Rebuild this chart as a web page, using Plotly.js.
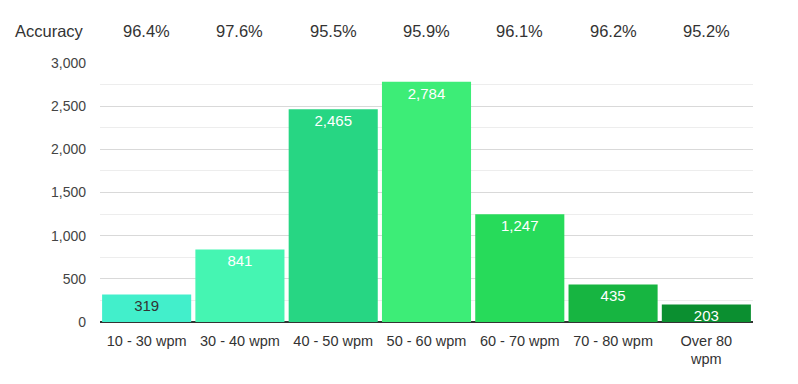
<!DOCTYPE html>
<html>
<head>
<meta charset="utf-8">
<script src="https://cdn.plot.ly/plotly-3.0.1.min.js"></script>
<style>html,body{margin:0;padding:0;background:#fff;}#chart{width:798px;height:384px;}</style>
</head>
<body>
<div id="chart"></div>
<script>
const categories = ["10 - 30 wpm", "30 - 40 wpm", "40 - 50 wpm", "50 - 60 wpm", "60 - 70 wpm", "70 - 80 wpm", "Over 80<br>wpm"];
const counts = [319, 841, 2465, 2784, 1247, 435, 203];
const accuracy = ["96.4%", "97.6%", "95.5%", "95.9%", "96.1%", "96.2%", "95.2%"];
const barColors = ["#42efcb", "#45f5b2", "#27d683", "#3ded77", "#27db5a", "#17b541", "#0b8f30"];
const labelColors = ["#333333", "#ffffff", "#ffffff", "#ffffff", "#ffffff", "#ffffff", "#ffffff"];

const font = "Liberation Sans, Arial, sans-serif";

const trace = {
  type: "bar",
  x: categories,
  y: counts,
  marker: {color: barColors, line: {width: 0}},
  text: counts.map(v => v.toLocaleString("en-US")),
  textposition: "inside",
  insidetextanchor: "end",
  constraintext: "none",
  textangle: 0,
  textfont: {family: font, size: 15, color: labelColors},
  hoverinfo: "skip"
};

// invisible helper trace on an overlaid axis that carries the light half-step gridlines
const gridTrace = {
  type: "scatter", mode: "markers",
  x: [categories[0]], y: [0], yaxis: "y2",
  marker: {opacity: 0}, hoverinfo: "skip", showlegend: false
};

const annotations = [{
  xref: "paper", yref: "paper", x: -0.077, y: 1.125,
  xanchor: "center", yanchor: "middle",
  text: "Accuracy", showarrow: false,
  font: {family: font, size: 16.5, color: "#333"}
}].concat(categories.map((c, i) => ({
  xref: "x", yref: "paper", x: c, y: 1.125,
  xanchor: "center", yanchor: "middle",
  text: accuracy[i], showarrow: false,
  font: {family: font, size: 16.5, color: "#333"}
})));

const layout = {
  width: 798, height: 384,
  margin: {l: 100, r: 45, t: 63, b: 62},
  paper_bgcolor: "#fff", plot_bgcolor: "#fff",
  bargap: 0.045,
  showlegend: false,
  font: {family: font, size: 13, color: "#444"},
  xaxis: {
    type: "category",
    showgrid: false,
    showline: false,
    ticks: "",
    ticklabelstandoff: 8,
    tickfont: {family: font, size: 14.5, color: "#333"},
    fixedrange: true
  },
  yaxis: {
    range: [0, 3000],
    dtick: 500,
    tickformat: ",d",
    showgrid: true,
    gridcolor: "#d9d9d9",
    gridwidth: 1,
    zeroline: true,
    zerolinecolor: "#333333",
    zerolinewidth: 1.5,
    showline: false,
    ticks: "",
    ticklabelstandoff: 13,
    tickfont: {family: font, size: 14, color: "#444"},
    fixedrange: true
  },
  yaxis2: {
    overlaying: "y",
    range: [0, 3000],
    tick0: 250,
    dtick: 500,
    showgrid: true,
    gridcolor: "#ededed",
    gridwidth: 1,
    zeroline: false,
    showline: false,
    showticklabels: false,
    ticks: "",
    fixedrange: true
  },
  annotations: annotations
};

Plotly.newPlot("chart", [trace, gridTrace], layout, {displayModeBar: false, staticPlot: true});
</script>
</body>
</html>
